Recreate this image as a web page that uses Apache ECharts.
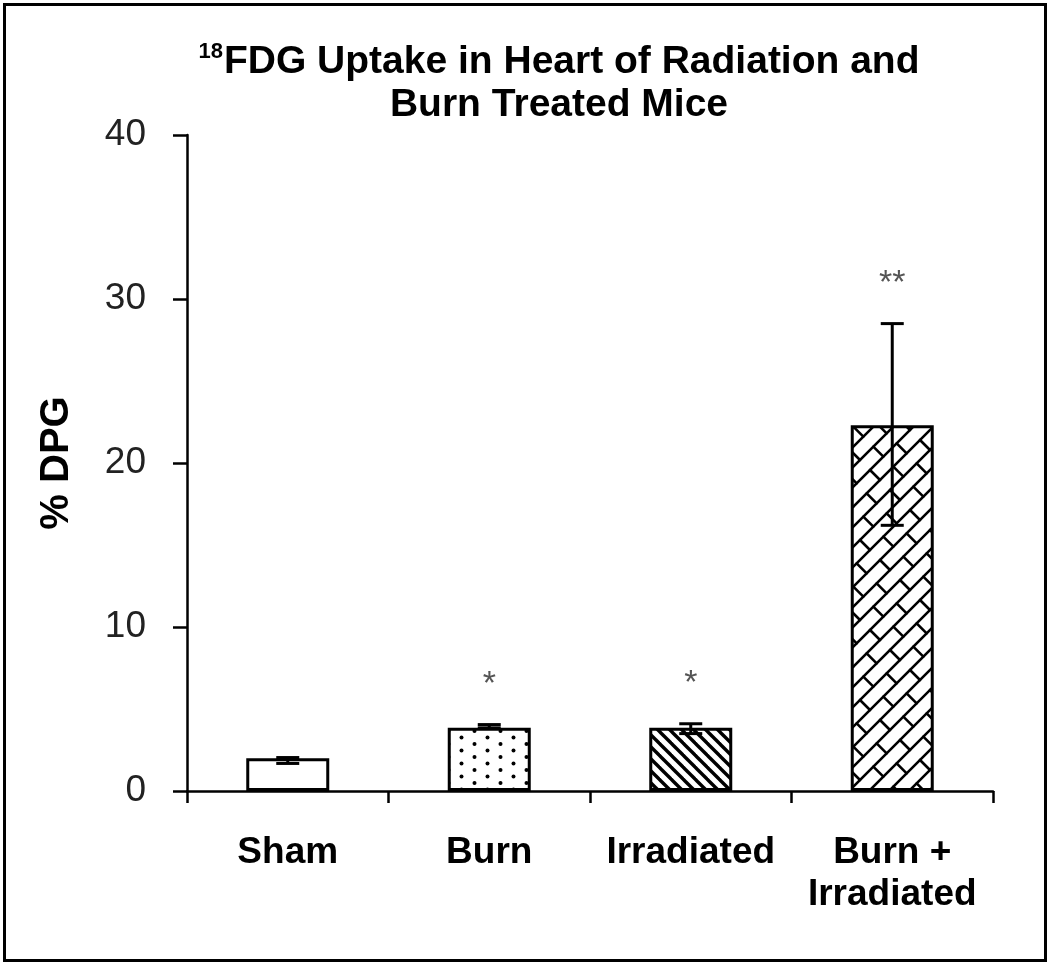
<!DOCTYPE html>
<html><head><meta charset="utf-8">
<script src="https://cdn.jsdelivr.net/npm/echarts@6/dist/echarts.min.js"></script>
<style>html,body{margin:0;padding:0;background:#fff}#c{width:1050px;height:965px}</style>
</head><body><div id="c"></div>
<script>
// ---- data ----
const categories = ['Sham', 'Burn', 'Irradiated', 'Burn +\nIrradiated'];
const means = [2.0, 3.85, 3.85, 22.3];
const errLow = [1.68, 3.85, 3.5, 16.2];
const errHigh = [2.04, 4.05, 4.1, 28.5];
const stars = ['', '*', '*', '**'];
const yTicks = [0, 10, 20, 30, 40];

// ---- fill patterns ----
function mk(w, h) { const c = document.createElement('canvas'); c.width = w; c.height = h; const x = c.getContext('2d'); x.fillStyle = '#fff'; x.fillRect(0, 0, w, h); return [c, x]; }
function dotPattern() {
  const [c, x] = mk(26, 13); x.fillStyle = '#000';
  [[6.5, 3], [19.5, 9.5]].forEach(p => { x.beginPath(); x.arc(p[0], p[1], 2.0, 0, Math.PI * 2); x.fill(); });
  return c;
}
function diagPattern() {
  const T = 12; const [c, x] = mk(T, T); x.strokeStyle = '#000'; x.lineWidth = 3.4;
  for (let k = -2; k <= 2; k++) { x.beginPath(); x.moveTo(k * T - T, -T); x.lineTo(k * T + 2 * T, 2 * T); x.stroke(); }
  return c;
}
function brickPattern() {
  // diagonal brick: long "/" courses, short "\" joints, half bond
  const T = 160, r2 = Math.SQRT2;
  const hv = T / r2 / 8, S = T / r2 / 3;
  const [c, x] = mk(T, T); x.strokeStyle = '#000'; x.lineWidth = 2.6; x.lineCap = 'round';
  const P = (u, v) => [(u + v) / r2, (v - u) / r2];
  for (let j = -3; j <= 20; j++) {
    const v = j * hv;
    let a = P(-300, v), b = P(300, v);
    x.beginPath(); x.moveTo(a[0], a[1]); x.lineTo(b[0], b[1]); x.stroke();
    const off = (((j % 2) + 2) % 2) * S / 2;
    for (let m = -10; m <= 10; m++) {
      const u = m * S + off;
      a = P(u, v); b = P(u, v + hv);
      x.beginPath(); x.moveTo(a[0], a[1]); x.lineTo(b[0], b[1]); x.stroke();
    }
  }
  return c;
}
const fills = ['#ffffff', { image: dotPattern(), repeat: 'repeat' }, { image: diagPattern(), repeat: 'repeat' }, { image: brickPattern(), repeat: 'repeat' }];

const FONT = '"Liberation Sans", Arial, sans-serif';
const chart = echarts.init(document.getElementById('c'));
chart.setOption({
  backgroundColor: '#fff',
  animation: false,
  title: {
    text: '{sup|18}{b|FDG Uptake in Heart of Radiation and}\n{b|Burn Treated Mice}',
    left: 554, top: 36, textAlign: 'center',
    textStyle: {
      align: 'center',
      rich: {
        sup: { fontFamily: FONT, fontWeight: 'bold', fontSize: 22, verticalAlign: 'top', lineHeight: 43, padding: [0, 1, 14, 0], color: '#000' },
        b: { fontFamily: FONT, fontWeight: 'bold', fontSize: 39, lineHeight: 43, color: '#000' }
      }
    }
  },
  grid: { left: 187, right: 57, top: 135, bottom: 174, containLabel: false },
  xAxis: {
    type: 'category', data: categories,
    axisLine: { lineStyle: { color: '#000', width: 2.5 } },
    axisTick: { show: true, length: 12, alignWithLabel: false, lineStyle: { color: '#000', width: 2.5 } },
    axisLabel: { fontFamily: FONT, fontWeight: 'bold', fontSize: 37, color: '#000', margin: 41, lineHeight: 42, interval: 0 }
  },
  yAxis: {
    type: 'value', min: yTicks[0], max: yTicks[yTicks.length - 1], interval: 10,
    name: '% DPG', nameLocation: 'middle', nameGap: 110,
    nameTextStyle: { fontFamily: FONT, fontWeight: 'bold', fontSize: 40, color: '#000' },
    axisLine: { show: true, lineStyle: { color: '#000', width: 2.5 } },
    axisTick: { show: true, length: 14, inside: false, lineStyle: { color: '#000', width: 2.5 } },
    splitLine: { show: false },
    axisLabel: { fontFamily: FONT, fontSize: 37, color: '#222', margin: 41 }
  },
  series: [
    {
      type: 'bar', barWidth: 83, z: 2,
      data: means.map((v, i) => ({ value: v, itemStyle: { color: fills[i], borderColor: '#000', borderWidth: 3 } }))
    },
    {
      type: 'custom', z: 5,
      data: categories.map((c, i) => [i, errLow[i], errHigh[i]]),
      encode: { x: 0, y: [1, 2] },
      renderItem: function (params, api) {
        const i = api.value(0);
        const lo = api.coord([i, api.value(1)]);
        const hi = api.coord([i, api.value(2)]);
        const cw = 11.5;
        const st = { stroke: '#000', lineWidth: 3 };
        const ch = [
          { type: 'line', shape: { x1: hi[0], y1: hi[1], x2: lo[0], y2: lo[1] }, style: st },
          { type: 'line', shape: { x1: hi[0] - cw, y1: hi[1], x2: hi[0] + cw, y2: hi[1] }, style: st },
          { type: 'line', shape: { x1: lo[0] - cw, y1: lo[1], x2: lo[0] + cw, y2: lo[1] }, style: st }
        ];
        const s = stars[params.dataIndex];
        if (s) ch.push({ type: 'text', x: hi[0], y: hi[1] - 40, style: { text: s, fontFamily: FONT, fontSize: 34, fill: '#555', align: 'center', verticalAlign: 'middle' } });
        return { type: 'group', children: ch };
      }
    }
  ],
  graphic: [
    { type: 'rect', shape: { x: 4.5, y: 4.5, width: 1041, height: 956 }, style: { fill: 'none', stroke: '#000', lineWidth: 3 }, z: 100 }
  ]
});
</script></body></html>
